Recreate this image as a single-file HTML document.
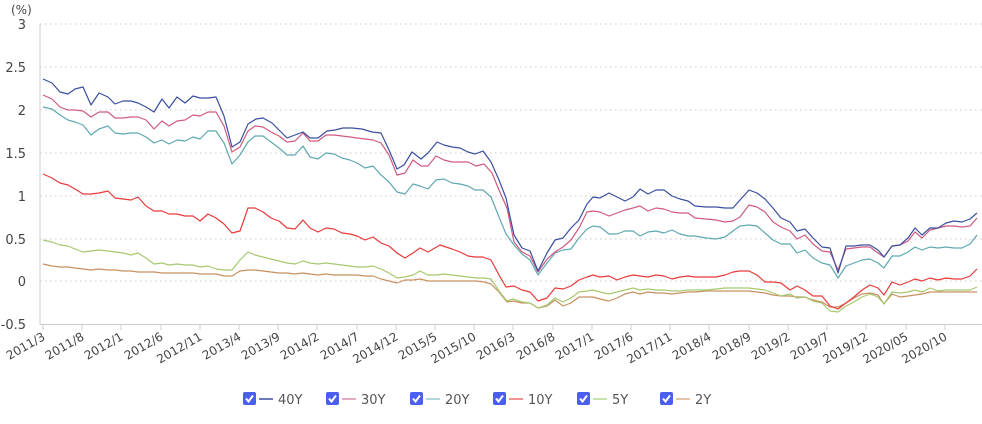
<!DOCTYPE html><html><head><meta charset="utf-8"><style>
body{margin:0;background:#fff;width:982px;height:420px;overflow:hidden;font-family:"DejaVu Sans","Liberation Sans",sans-serif}
</style></head><body>
<svg width="982" height="420" xmlns="http://www.w3.org/2000/svg" font-family="DejaVu Sans, Liberation Sans, sans-serif">
<g stroke="#c8c8c8" stroke-dasharray="1.5,3.5" stroke-width="1">
<line x1="40" y1="24" x2="982" y2="24"/><line x1="40" y1="67" x2="982" y2="67"/><line x1="40" y1="110" x2="982" y2="110"/><line x1="40" y1="153" x2="982" y2="153"/><line x1="40" y1="196" x2="982" y2="196"/><line x1="40" y1="239" x2="982" y2="239"/><line x1="40" y1="281" x2="982" y2="281"/>
</g>
<line x1="40" y1="24" x2="40" y2="325" stroke="#ccc"/>
<line x1="40" y1="324.5" x2="982" y2="324.5" stroke="#ccc"/>
<g stroke="#ccc">
<line x1="43" y1="325" x2="43" y2="330"/><line x1="82" y1="325" x2="82" y2="330"/><line x1="121" y1="325" x2="121" y2="330"/><line x1="161" y1="325" x2="161" y2="330"/><line x1="200" y1="325" x2="200" y2="330"/><line x1="239" y1="325" x2="239" y2="330"/><line x1="278" y1="325" x2="278" y2="330"/><line x1="317" y1="325" x2="317" y2="330"/><line x1="357" y1="325" x2="357" y2="330"/><line x1="396" y1="325" x2="396" y2="330"/><line x1="435" y1="325" x2="435" y2="330"/><line x1="474" y1="325" x2="474" y2="330"/><line x1="513" y1="325" x2="513" y2="330"/><line x1="553" y1="325" x2="553" y2="330"/><line x1="592" y1="325" x2="592" y2="330"/><line x1="631" y1="325" x2="631" y2="330"/><line x1="670" y1="325" x2="670" y2="330"/><line x1="709" y1="325" x2="709" y2="330"/><line x1="749" y1="325" x2="749" y2="330"/><line x1="788" y1="325" x2="788" y2="330"/><line x1="827" y1="325" x2="827" y2="330"/><line x1="866" y1="325" x2="866" y2="330"/><line x1="906" y1="325" x2="906" y2="330"/><line x1="945" y1="325" x2="945" y2="330"/>
</g>
<g font-size="13" fill="#444" text-anchor="end">
<text x="26" y="29">3</text><text x="26" y="72">2.5</text><text x="26" y="115">2</text><text x="26" y="158">1.5</text><text x="26" y="201">1</text><text x="26" y="244">0.5</text><text x="26" y="286">0</text><text x="26" y="329">-0.5</text>
</g>
<text x="11" y="14" font-size="12" fill="#444">(%)</text>
<g font-size="12" fill="#444" text-anchor="end">
<text transform="translate(46,339) rotate(-30)">2011/3</text><text transform="translate(85,339) rotate(-30)">2011/8</text><text transform="translate(124,339) rotate(-30)">2012/1</text><text transform="translate(164,339) rotate(-30)">2012/6</text><text transform="translate(203,339) rotate(-30)">2012/11</text><text transform="translate(242,339) rotate(-30)">2013/4</text><text transform="translate(281,339) rotate(-30)">2013/9</text><text transform="translate(320,339) rotate(-30)">2014/2</text><text transform="translate(360,339) rotate(-30)">2014/7</text><text transform="translate(399,339) rotate(-30)">2014/12</text><text transform="translate(438,339) rotate(-30)">2015/5</text><text transform="translate(477,339) rotate(-30)">2015/10</text><text transform="translate(516,339) rotate(-30)">2016/3</text><text transform="translate(556,339) rotate(-30)">2016/8</text><text transform="translate(595,339) rotate(-30)">2017/1</text><text transform="translate(634,339) rotate(-30)">2017/6</text><text transform="translate(673,339) rotate(-30)">2017/11</text><text transform="translate(712,339) rotate(-30)">2018/4</text><text transform="translate(752,339) rotate(-30)">2018/9</text><text transform="translate(791,339) rotate(-30)">2019/2</text><text transform="translate(830,339) rotate(-30)">2019/7</text><text transform="translate(869,339) rotate(-30)">2019/12</text><text transform="translate(909,339) rotate(-30)">2020/05</text><text transform="translate(948,339) rotate(-30)">2020/10</text>
</g>
<g fill="none" stroke-width="1.2" stroke-linejoin="round">
<polyline stroke="#c89060" points="43,264 52,266 60,267 68,267 75,268 83,269 91,270 99,269 108,270 115,270 123,271 131,271 138,272 146,272 154,272 162,273 169,273 177,273 185,273 193,273 200,274 208,274 216,274 224,276 232,276 240,271 248,270 255,270 263,271 271,272 279,273 287,273 295,274 303,273 310,274 318,275 326,274 334,275 342,275 350,275 357,275 365,276 373,276 381,279 389,281 397,283 405,280 413,280 420,279 428,281 436,281 444,281 452,281 460,281 468,281 476,281 484,282 491,284 499,292 507,302 513,301 522,303 530,303 538,308 547,306 555,300 563,306 571,303 579,297 587,297 593,297 600,299 609,301 617,298 625,294 633,292 640,294 648,292 656,293 664,293 672,294 680,293 688,292 695,292 706,291 716,291 725,291 733,291 740,291 749,291 757,292 765,293 773,295 781,296 790,296 797,297 805,297 813,300 822,302 830,307 838,307 846,303 854,298 862,294 870,293 878,295 884,304 892,294 900,297 908,296 915,295 922,294 930,292 938,292 946,292 954,292 962,292 970,292 977,292"/>
<polyline stroke="#a8c870" points="43,240 52,242 60,245 68,246 75,249 83,252 91,251 99,250 108,251 115,252 123,253 131,255 138,253 146,258 154,264 162,263 169,265 177,264 185,265 193,265 200,267 208,266 216,269 224,270 232,270 240,260 248,252 255,255 263,257 271,259 279,261 287,263 295,264 303,261 310,263 318,264 326,263 334,264 342,265 350,266 357,267 365,267 373,266 381,269 389,273 397,278 405,277 413,275 420,271 428,275 436,275 444,274 452,275 460,276 468,277 476,278 484,278 491,279 499,291 507,301 513,299 522,302 530,303 538,308 547,305 555,298 563,302 571,298 579,292 587,291 593,290 600,292 609,294 617,292 625,290 633,288 640,290 648,289 656,290 664,290 672,291 680,291 688,290 695,290 706,290 716,289 725,288 733,288 740,288 749,288 757,289 765,290 773,293 781,296 790,294 797,298 805,297 813,301 822,303 830,311 838,312 846,306 854,302 862,297 870,294 878,297 884,304 892,292 900,293 908,292 915,290 922,292 930,288 938,291 946,290 954,290 962,290 970,290 977,287"/>
<polyline stroke="#e83a3a" points="43,174 52,178 60,183 68,185 75,189 83,194 91,194 99,193 108,191 115,198 123,199 131,200 138,197 146,206 154,211 162,211 169,214 177,214 185,216 193,216 200,221 208,214 216,218 224,224 232,233 240,231 248,208 255,208 263,212 271,218 279,221 287,228 295,229 303,220 310,228 318,232 326,228 334,229 342,233 350,234 357,236 365,240 373,237 381,243 389,246 397,253 405,258 413,253 420,248 428,252 440,245 452,249 460,252 468,256 475,257 483,257 491,260 499,275 506,287 514,286 522,290 530,292 538,301 547,298 555,288 563,289 571,286 579,280 587,277 593,275 600,277 609,276 617,280 625,277 633,275 640,276 648,277 656,275 664,276 672,279 680,277 688,276 695,277 706,277 716,277 725,275 733,272 740,271 749,271 757,275 765,282 773,282 781,283 790,290 797,286 805,290 813,296 822,296 830,306 838,309 846,303 854,297 862,290 870,285 878,288 884,295 892,282 900,285 908,282 915,279 922,281 930,278 938,280 946,278 954,279 962,279 970,276 977,269"/>
<polyline stroke="#5fa8b0" points="43,107 52,109 60,115 68,120 75,122 83,125 91,135 99,129 108,126 115,133 123,134 131,133 138,133 146,137 154,143 162,140 169,144 177,140 185,141 193,137 200,139 208,131 216,131 224,143 232,164 240,155 248,142 255,136 263,136 271,142 279,148 287,155 295,155 303,146 310,157 318,159 326,153 334,154 342,158 350,160 357,163 365,168 373,166 381,175 389,182 397,192 405,194 413,184 420,186 428,189 436,180 444,179 452,183 460,184 468,186 475,190 483,190 491,197 499,217 506,234 514,245 522,254 530,260 538,275 547,263 555,253 563,250 571,249 579,238 587,229 593,226 600,227 609,234 617,234 625,231 633,231 640,236 648,232 656,231 664,233 672,230 680,234 688,236 695,236 706,238 716,239 725,237 733,231 740,226 749,225 757,226 765,233 773,240 781,244 790,244 797,253 805,250 813,258 822,263 830,265 838,278 846,266 854,263 862,260 870,259 878,263 884,268 892,256 900,256 908,252 915,247 922,250 930,247 938,248 946,247 954,248 962,248 970,244 977,235"/>
<polyline stroke="#d05a80" points="43,95 52,99 60,107 68,110 75,110 83,111 91,117 99,112 108,112 115,118 123,118 131,117 138,117 146,120 154,129 162,121 169,126 177,121 185,120 193,115 200,116 208,112 216,112 224,126 232,152 240,147 248,131 255,126 263,127 271,132 279,136 287,142 295,141 303,133 310,141 318,141 326,135 334,135 342,136 350,137 357,138 365,139 373,140 381,143 389,155 397,175 405,173 413,160 421,166 428,166 436,156 444,160 452,162 460,162 468,162 476,166 484,164 492,173 499,190 507,208 514,242 522,252 530,256 538,272 547,259 555,252 563,247 571,240 579,228 587,212 593,211 600,212 609,216 617,213 625,210 633,208 640,206 648,211 656,208 664,209 672,212 680,213 688,213 695,218 706,219 716,220 725,222 733,221 740,217 749,205 757,207 765,212 773,222 781,227 790,231 797,239 805,235 813,244 822,251 830,252 838,270 846,249 854,248 862,247 870,247 878,253 884,257 892,246 900,245 908,241 915,232 922,238 930,230 938,228 946,226 954,226 962,227 970,226 977,218"/>
<polyline stroke="#3a4fa0" points="43,79 52,83 60,92 68,94 75,89 83,87 91,105 99,93 108,97 115,104 123,101 131,101 138,103 146,107 154,112 162,99 169,108 177,97 185,103 193,96 200,98 208,98 216,97 224,116 232,147 240,142 248,124 256,119 263,118 272,123 279,130 287,138 295,135 303,132 310,138 318,138 327,131 335,130 343,128 352,128 362,129 372,132 381,133 389,150 397,169 404,165 412,152 421,159 428,153 437,142 444,145 452,147 460,148 468,152 475,154 483,151 491,162 499,180 506,198 514,235 522,248 530,251 538,271 547,253 555,240 563,238 571,228 579,220 587,204 593,197 600,198 609,193 617,197 625,201 633,197 640,189 648,194 656,190 664,190 672,196 680,199 688,201 695,206 706,207 716,207 725,208 733,208 740,200 749,190 757,193 765,199 773,208 781,218 790,222 797,231 805,229 813,238 822,247 830,248 838,273 846,246 854,246 862,245 870,245 878,250 884,257 892,246 900,245 908,238 915,228 922,235 930,228 938,228 946,223 954,221 962,222 970,219 977,213"/>
</g>
<g font-size="13" fill="#555">
<g transform="translate(243,392)"><rect width="13" height="13" rx="2" fill="#4a5ef0"/><path d="M3,6.5 L5.5,9.5 L10,3.5" stroke="#fff" stroke-width="2" fill="none"/><line x1="16" y1="7" x2="30" y2="7" stroke="#3a4fa0" stroke-width="1.5"/><text x="35" y="12">40Y</text></g>
<g transform="translate(326,392)"><rect width="13" height="13" rx="2" fill="#4a5ef0"/><path d="M3,6.5 L5.5,9.5 L10,3.5" stroke="#fff" stroke-width="2" fill="none"/><line x1="16" y1="7" x2="30" y2="7" stroke="#d890a8" stroke-width="1.5"/><text x="35" y="12">30Y</text></g>
<g transform="translate(410,392)"><rect width="13" height="13" rx="2" fill="#4a5ef0"/><path d="M3,6.5 L5.5,9.5 L10,3.5" stroke="#fff" stroke-width="2" fill="none"/><line x1="16" y1="7" x2="30" y2="7" stroke="#9cc8cc" stroke-width="1.5"/><text x="35" y="12">20Y</text></g>
<g transform="translate(493,392)"><rect width="13" height="13" rx="2" fill="#4a5ef0"/><path d="M3,6.5 L5.5,9.5 L10,3.5" stroke="#fff" stroke-width="2" fill="none"/><line x1="16" y1="7" x2="30" y2="7" stroke="#e87070" stroke-width="1.5"/><text x="35" y="12">10Y</text></g>
<g transform="translate(577,392)"><rect width="13" height="13" rx="2" fill="#4a5ef0"/><path d="M3,6.5 L5.5,9.5 L10,3.5" stroke="#fff" stroke-width="2" fill="none"/><line x1="16" y1="7" x2="30" y2="7" stroke="#b8d890" stroke-width="1.5"/><text x="35" y="12">5Y</text></g>
<g transform="translate(660,392)"><rect width="13" height="13" rx="2" fill="#4a5ef0"/><path d="M3,6.5 L5.5,9.5 L10,3.5" stroke="#fff" stroke-width="2" fill="none"/><line x1="16" y1="7" x2="30" y2="7" stroke="#d8b090" stroke-width="1.5"/><text x="35" y="12">2Y</text></g>
</g>
</svg>
</body></html>
